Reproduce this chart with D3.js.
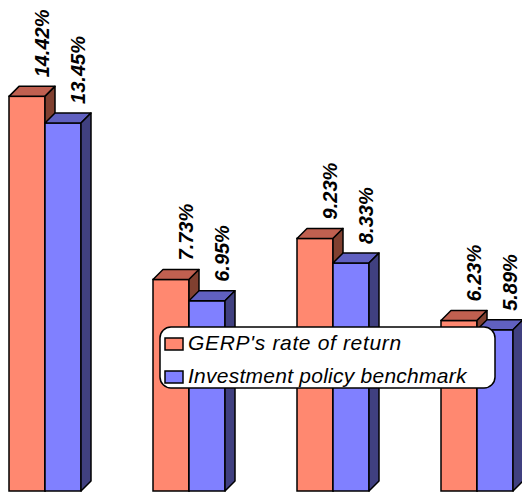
<!DOCTYPE html>
<html>
<head>
<meta charset="utf-8">
<script src="https://cdn.jsdelivr.net/npm/d3@7"></script>
<style>
  html, body { margin: 0; padding: 0; background: #fff; }
  svg { display: block; font-family: "Liberation Sans", Arial, sans-serif; }
</style>
</head>
<body>
<svg id="chart" width="522" height="493"></svg>
<script>
// data
const categories = ["1 year", "3 years", "5 years", "10 years"];
const seriesNames = ["GERP's rate of return", "Investment policy benchmark"];
const gerpReturn = [14.42, 7.73, 9.23, 6.23];
const benchmark = [13.45, 6.95, 8.33, 5.89];

const colors = [
  { front: "#ff8870", top: "#c06050", side: "#804030" },
  { front: "#8080ff", top: "#6060c0", side: "#404080" }
];

const svg = d3.select("#chart");
const depth = 10;
const baseY = 491;

const x0 = d3.scaleBand()
  .domain(categories)
  .range([9, 513])
  .paddingInner(0.5)
  .paddingOuter(0);

const x1 = d3.scaleBand()
  .domain([0, 1])
  .range([0, x0.bandwidth()]);

const y = d3.scaleLinear()
  .domain([0, 15])
  .range([baseY, 80.5]);

const rows = categories.map((c, i) => ({ cat: c, vals: [gerpReturn[i], benchmark[i]] }));

const groups = svg.append("g")
  .selectAll("g")
  .data(rows)
  .enter().append("g")
  .attr("transform", d => `translate(${x0(d.cat)},0)`);

// Draw each bar as a small box: front, top, side
groups.each(function(d) {
  const g = d3.select(this);
  d.vals.forEach((v, s) => {
    const bx = x1(s);
    const w = x1.bandwidth();
    const ty = y(v);
    const c = colors[s];
    const bar = g.append("g");
    bar.append("rect")
      .attr("x", bx).attr("y", ty)
      .attr("width", w).attr("height", baseY - ty)
      .attr("fill", c.front)
      .attr("stroke", "#000").attr("stroke-width", 1.5);
    bar.append("path")
      .attr("d", `M${bx},${ty} L${bx + depth},${ty - depth} L${bx + w + depth},${ty - depth} L${bx + w},${ty} Z`)
      .attr("fill", c.top)
      .attr("stroke", "#000").attr("stroke-width", 1.5).attr("stroke-linejoin", "round");
    bar.append("path")
      .attr("d", `M${bx + w},${ty} L${bx + w + depth},${ty - depth} L${bx + w + depth},${baseY - depth} L${bx + w},${baseY} Z`)
      .attr("fill", c.side)
      .attr("stroke", "#000").attr("stroke-width", 1.5).attr("stroke-linejoin", "round");
  });
});

// value labels, rotated
groups.each(function(d) {
  const g = d3.select(this);
  d.vals.forEach((v, s) => {
    const lx = x1(s) + x1.bandwidth() + 3.5;
    const ly = y(v) - depth - 9;
    g.append("text")
      .attr("transform", `translate(${lx},${ly}) rotate(-90)`)
      .attr("text-anchor", "start")
      .attr("font-size", "20px")
      .attr("font-weight", "bold")
      .attr("font-style", "italic")
      .attr("fill", "#000")
      .text(v.toFixed(2) + "%");
  });
});

// legend
const legend = svg.append("g").attr("transform", "translate(160,327)");
legend.append("rect")
  .attr("x", 0).attr("y", 0)
  .attr("width", 335).attr("height", 61)
  .attr("rx", 11).attr("ry", 11)
  .attr("fill", "#fff")
  .attr("stroke", "#000").attr("stroke-width", 1.5);

seriesNames.forEach((name, i) => {
  const row = legend.append("g").attr("transform", `translate(0,${i * 33})`);
  row.append("rect")
    .attr("x", 5).attr("y", 11)
    .attr("width", 18).attr("height", 12)
    .attr("fill", colors[i].front)
    .attr("stroke", "#000").attr("stroke-width", 1.5);
  row.append("text")
    .attr("x", 28).attr("y", 23)
    .attr("font-size", "21px")
    .attr("font-style", "italic")
    .attr("letter-spacing", i === 0 ? "0.65px" : "0.25px")
    .attr("fill", "#000")
    .text(name);
});
</script>
</body>
</html>
